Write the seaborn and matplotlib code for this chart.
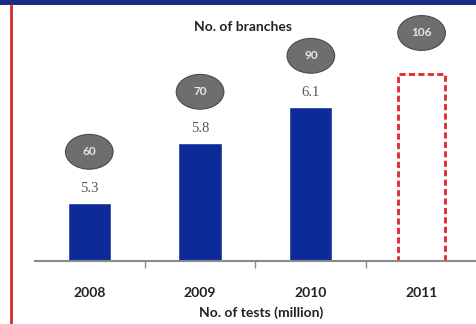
import numpy as np
import pandas as pd
import matplotlib
matplotlib.use("Agg")
import matplotlib.pyplot as plt
import seaborn as sns
from matplotlib.patches import Ellipse, Rectangle
from matplotlib.lines import Line2D

# data
years = ["2008", "2009", "2010", "2011"]
tests = [5.3, 5.8, 6.1, 6.38]          # 2011 is a dashed placeholder, no label
test_labels = ["5.3", "5.8", "6.1", ""]
branches = [60, 70, 90, 106]

df = pd.DataFrame({"year": years, "tests": tests})

sns.set_style("white")
plt.rcParams['font.family'] = ['Lato', 'DejaVu Sans']

BAR_BLUE = "#0c2a98"
DASH_RED = "#e0262b"
BUBBLE = "#6e6e6e"
YBASE = 4.82

fig = plt.figure(figsize=(4.77, 3.24), dpi=100)
ax = fig.add_axes([35 / 477, 63 / 324, 1 - 35 / 477, 256 / 324])

sns.barplot(data=df, x="year", y="tests", color=BAR_BLUE, width=0.39,
            saturation=1, ax=ax)

ax.set_ylim(YBASE, YBASE + 256 / 120)
ax.set_xlim(-0.49, 3.5)

# bars start at the axis baseline; last bar becomes the dashed forecast box
for i, p in enumerate(ax.patches):
    p.set_y(YBASE)
    p.set_height(tests[i] - YBASE)
    if i == len(years) - 1:
        p.set_facecolor("none")
        p.set_edgecolor(DASH_RED)
        p.set_linestyle((0, (2.2, 1.2)))
        p.set_linewidth(2)
        p.set_width(0.43)
        p.set_x(i - 0.215)

# value labels and branch bubbles
for i, (v, lab, b) in enumerate(zip(tests, test_labels, branches)):
    if lab:
        ax.text(i, v + 0.07, lab, ha="center", va="bottom", fontsize=10.5,
                color="#555555", family=["Liberation Serif", "DejaVu Serif"])
        cy = v + 0.43
    else:
        cy = v + 0.34
    ax.add_patch(Ellipse((i, cy), 0.43, 0.29, facecolor=BUBBLE,
                         edgecolor="#4a4a4a", linewidth=0.8, zorder=3))
    ax.text(i, cy, str(b), ha="center", va="center", fontsize=8.5,
            fontweight="bold", color="#e8e8e8", zorder=4)

sns.despine(ax=ax, left=True, top=True, right=True)
ax.spines["bottom"].set_color("#8a8a8a")
ax.spines["bottom"].set_linewidth(1.5)
ax.set_yticks([])
ax.set_ylabel("")
ax.set_xlabel("")
ax.set_xticks([0.5, 1.5, 2.5], minor=True)
ax.tick_params(axis="x", which="major", bottom=False, length=0, pad=19,
               labelsize=10, labelcolor="#222222")
ax.tick_params(axis="x", which="minor", bottom=True, length=5, width=1,
               color="#8a8a8a", direction="out")
for t in ax.get_xticklabels():
    t.set_fontweight("bold")

fig.text(243 / 477, 1 - 27 / 324, "No. of branches", ha="center", va="center",
         fontsize=10, fontweight="bold", color="#222222")
fig.text(261 / 477, 1 - 313 / 324, "No. of tests (million)", ha="center",
         va="center", fontsize=10, fontweight="bold", color="#222222")

# frame decoration: navy band on top, red rule on left
fig.add_artist(Rectangle((0, 1 - 5 / 324), 1, 5 / 324, transform=fig.transFigure,
                         facecolor="#1d2a86", edgecolor="none"))
fig.add_artist(Line2D([11 / 477, 11 / 477], [0, 1 - 5 / 324],
                      transform=fig.transFigure, color="#d42a2a", linewidth=2))

fig.savefig("out.png", dpi=100)
